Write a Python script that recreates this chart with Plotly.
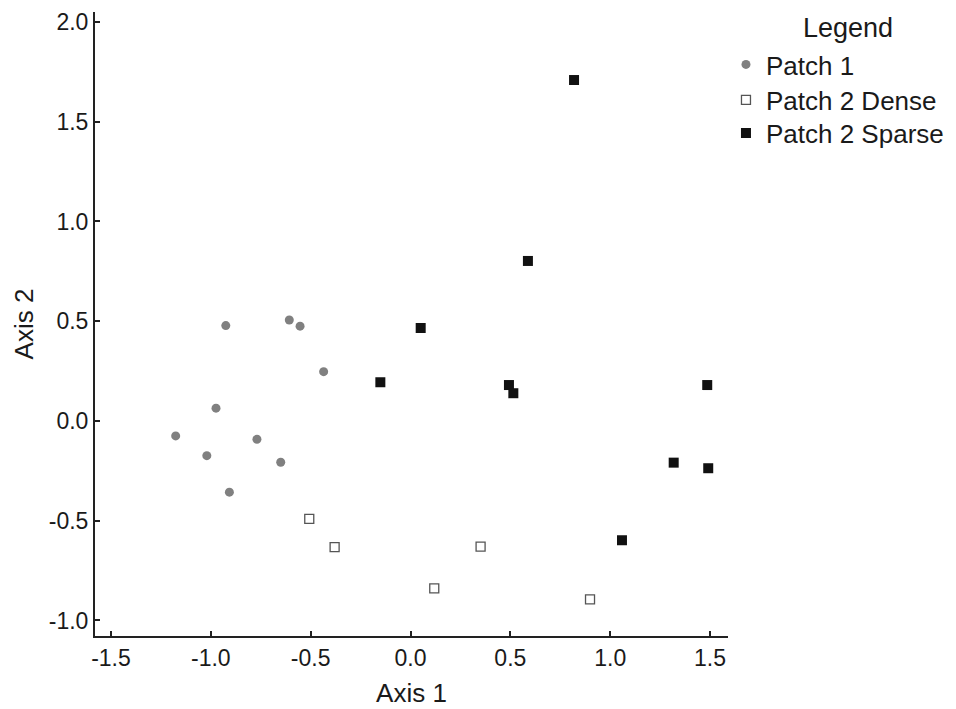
import plotly.graph_objects as go

# Data
p1_x = [-0.925, -0.607, -0.553, -0.435, -0.974, -1.176, -1.020, -0.769, -0.650, -0.907]
p1_y = [0.478, 0.506, 0.475, 0.247, 0.064, -0.075, -0.174, -0.092, -0.207, -0.357]

dense_x = [-0.507, -0.380, 0.351, 0.119, 0.899]
dense_y = [-0.491, -0.632, -0.630, -0.839, -0.894]

sparse_x = [0.819, 0.588, 0.051, -0.151, 0.493, 0.515, 1.486, 1.318, 1.491, 1.059]
sparse_y = [1.709, 0.802, 0.466, 0.194, 0.180, 0.139, 0.180, -0.209, -0.237, -0.598]

x_ticks = [-1.5, -1.0, -0.5, 0.0, 0.5, 1.0, 1.5]
x_tick_labels = ["-1.5", "-1.0", "-0.5", "0.0", "0.5", "1.0", "1.5"]
y_ticks = [-1.0, -0.5, 0.0, 0.5, 1.0, 1.5, 2.0]
y_tick_labels = ["-1.0", "-0.5", "0.0", "0.5", "1.0", "1.5", "2.0"]

FONT = "Liberation Sans, Arial, sans-serif"
INK = "#1a1a1a"

fig = go.Figure()
fig.add_trace(go.Scatter(
    x=p1_x, y=p1_y, mode="markers", name="Patch 1", legend="legend",
    marker=dict(symbol="circle", size=9, color="#808080", line=dict(width=0)),
))
fig.add_trace(go.Scatter(
    x=dense_x, y=dense_y, mode="markers", name="Patch 2 Dense", legend="legend2",
    marker=dict(symbol="square", size=9, color="white", line=dict(width=1.3, color="#555555")),
))
fig.add_trace(go.Scatter(
    x=sparse_x, y=sparse_y, mode="markers", name="Patch 2 Sparse", legend="legend3",
    marker=dict(symbol="square", size=10, color="#111111", line=dict(width=0)),
))

axis_common = dict(
    showgrid=False, zeroline=False, showline=True, linecolor="#222222", linewidth=2,
    ticks="inside", ticklen=5, tickwidth=1.5, tickcolor="#222222",
    tickfont=dict(family=FONT, size=23, color=INK),
    mirror=False,
)

fig.update_xaxes(
    range=[-1.58, 1.59], tickvals=x_ticks, ticktext=x_tick_labels,
    title=dict(text="Axis 1", font=dict(family=FONT, size=26, color=INK), standoff=14),
    **axis_common,
)
fig.update_yaxes(
    range=[-1.078, 2.05], tickvals=y_ticks, ticktext=y_tick_labels,
    title=dict(text="Axis 2", font=dict(family=FONT, size=26, color=INK), standoff=8),
    **axis_common,
)

legend_common = dict(
    x=0.9968, xanchor="left", yanchor="middle",
    font=dict(family=FONT, size=26, color=INK),
    itemwidth=30, tracegroupgap=0, bgcolor="rgba(0,0,0,0)", borderwidth=0,
)

fig.update_layout(
    width=956, height=709,
    margin=dict(l=87, r=236, t=4, b=81, autoexpand=False),
    paper_bgcolor="white", plot_bgcolor="white",
    font=dict(family=FONT, color=INK),
    showlegend=True,
    legend=dict(y=0.9159, **legend_common),
    legend2=dict(y=0.859, **legend_common),
    legend3=dict(y=0.806, **legend_common),
    annotations=[dict(
        text="Legend", xref="paper", yref="paper", x=1.1896, y=0.9744,
        xanchor="center", yanchor="middle", showarrow=False,
        font=dict(family=FONT, size=27, color=INK),
    )],
)

fig.write_html("out.html")
